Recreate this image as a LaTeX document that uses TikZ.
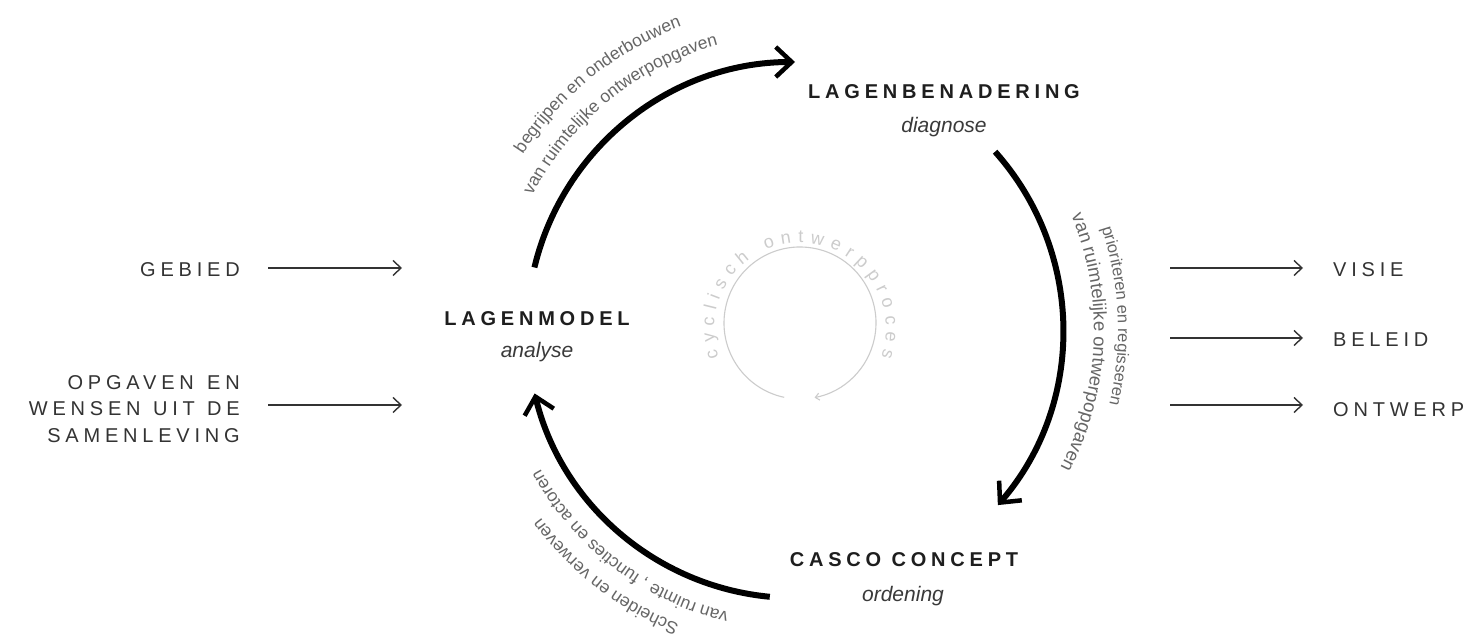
\documentclass[tikz,border=0pt]{standalone}
\usepackage{fontspec}
\setmainfont{Liberation Sans}
\newfontfamily\trackfont[LetterSpace=24]{Liberation Sans}
\usetikzlibrary{arrows.meta,decorations.text}
\definecolor{ink}{HTML}{1E1E1E}
\definecolor{labelgray}{HTML}{333333}
\definecolor{subgray}{HTML}{3A3A3A}
\definecolor{arcgray}{HTML}{666666}
\definecolor{faint}{HTML}{CCCCCC}
\begin{document}
\begin{tikzpicture}[x=1pt,y=1pt,
  bigarrow/.style={line width=6pt, draw=black, -{Straight Barb[length=16pt,width=30pt,line width=4.5pt]}},
  thinarrow/.style={line width=1.4pt, draw=labelgray, -{Straight Barb[length=8pt,width=15pt,line width=1.4pt]}},
  title/.style={font=\trackfont\bfseries\fontsize{20}{24}\selectfont, text=ink, inner sep=0pt, anchor=base},
  subtitle/.style={font=\itshape\fontsize{21}{25}\selectfont, text=subgray, inner sep=0pt, anchor=base},
  sidelabel/.style={font=\trackfont\fontsize{20}{26.5}\selectfont, text=labelgray, inner sep=0pt},
  arctext/.style n args={2}{decorate, decoration={text along path, text align=center, text color=arcgray, text={|\fontsize{#1}{20}\selectfont|#2}}},
  ]
\fill[white] (0,0) rectangle (1465,637);
\useasboundingbox (0,0) rectangle (1465,637);

% centres
\coordinate (C) at (795,307);
\coordinate (c) at (800,314);
\coordinate (ct) at (800,308);

% big arcs
\coordinate (a1s) at ([shift={(166.5:268pt)}]C);
\coordinate (a2s) at ([shift={(41.7:268pt)}]C);
\coordinate (a3s) at ([shift={(264.6:268pt)}]C);
\draw[bigarrow] (a1s) arc[start angle=166.5, end angle=90, radius=268pt];
\draw[bigarrow] (a2s) arc[start angle=41.7, end angle=-40.8, radius=268pt];
\draw[bigarrow] (a3s) arc[start angle=264.6, end angle=193.7, radius=268pt];

% arc labels
\path[arctext={17.5}{begrijpen en onderbouwen}] ([shift={(165:324pt)}]C) arc[start angle=165, end angle=92.6, radius=324pt];
\path[arctext={17.5}{van ruimtelijke ontwerpopgaven}] ([shift={(165:295pt)}]C) arc[start angle=165, end angle=93, radius=295pt];
\path[arctext={16.5}{prioriteren en regisseren}] ([shift={(38:323pt)}]C) arc[start angle=38, end angle=-33, radius=323pt];
\path[arctext={18.5}{van ruimtelijke ontwerpopgaven}] ([shift={(33:299pt)}]C) arc[start angle=33, end angle=-38, radius=299pt];
\path[arctext={17.5}{Scheiden en verweven}] ([shift={(268:316pt)}]C) arc[start angle=268, end angle=197, radius=316pt];
\path[arctext={17.5}{van ruimte , functies en actoren}] ([shift={(268:290pt)}]C) arc[start angle=268, end angle=197.4, radius=290pt];

% central cycle
\coordinate (cs) at ([shift={(258:76pt)}]c);
\draw[faint, line width=1.1pt, -{Straight Barb[length=4pt,width=7pt,line width=1.1pt]}] (cs) arc[start angle=258, end angle=-79, radius=76pt];
\path[decorate, decoration={text along path, text align=fit to path, text color=faint, text={|\fontsize{18}{21}\selectfont|cyclisch ontwerpproces}}] ([shift={(199:86pt)}]ct) arc[start angle=199, end angle=-19, radius=86pt];

% main nodes
\node[title] (lm) at (537,311) {LAGENMODEL};
\node[subtitle] (lma) at (537,279) {analyse};
\node[title] (lb) at (944,538) {LAGENBENADERING};
\node[subtitle] (lbd) at (944,504) {diagnose};
\node[title] (cc) at (904,70) {CASCO CONCEPT};
\node[subtitle] (cco) at (903,35) {ordening};

% inputs
\node[sidelabel, anchor=base east] (geb) at (240,360) {GEBIED};
\node[sidelabel, align=right, anchor=east] (opg) at (240,228) {OPGAVEN\hspace{3pt} EN\\WENSEN\hspace{2pt} UIT\hspace{2pt} DE\\SAMENLEVING};
\coordinate (i1a) at (268,369); \coordinate (i1b) at (402,369);
\coordinate (i2a) at (268,232); \coordinate (i2b) at (402,232);
\draw[thinarrow] (i1a) -- (i1b);
\draw[thinarrow] (i2a) -- (i2b);

% outputs
\node[sidelabel, anchor=base west] (vis) at (1333,360) {VISIE};
\node[sidelabel, anchor=base west] (bel) at (1333,290) {BELEID};
\node[sidelabel, anchor=base west] (ont) at (1333,220) {ONTWERP};
\coordinate (o1a) at (1170,369); \coordinate (o1b) at (1303,369);
\coordinate (o2a) at (1170,299); \coordinate (o2b) at (1303,299);
\coordinate (o3a) at (1170,232); \coordinate (o3b) at (1303,232);
\draw[thinarrow] (o1a) -- (o1b);
\draw[thinarrow] (o2a) -- (o2b);
\draw[thinarrow] (o3a) -- (o3b);
\end{tikzpicture}
\end{document}
